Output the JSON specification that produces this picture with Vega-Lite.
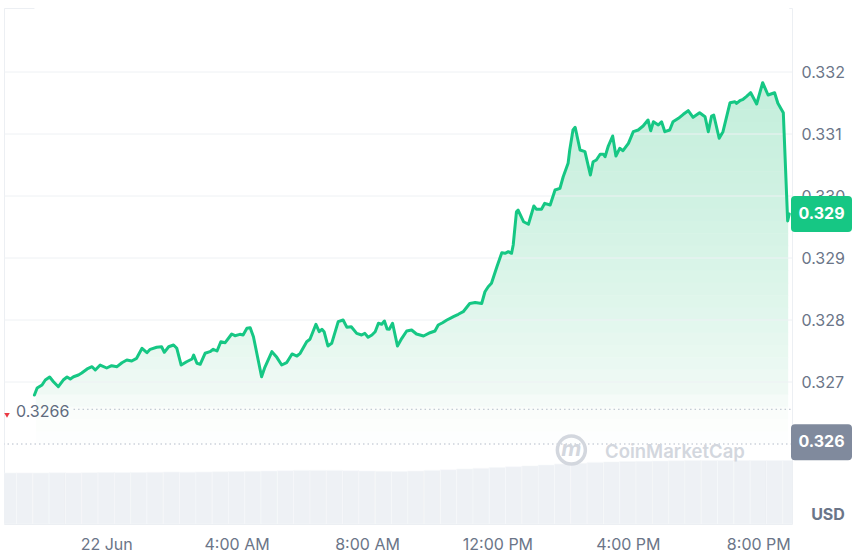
{
  "$schema": "https://vega.github.io/schema/vega-lite/v6.json",
  "width": 788,
  "height": 516,
  "autosize": {"type": "none"},
  "padding": {"left": 4, "top": 8, "right": 64, "bottom": 35},
  "background": "#ffffff",
  "config": {
    "font": "Inter",
    "view": {"stroke": "#eceff3", "strokeWidth": 1},
    "axis": {"labelFont": "Inter", "labelColor": "#6b7588", "labelFontSize": 16}
  },
  "datasets": {
    "price": [
      {"t":"2024-06-21T21:48Z","p":0.326790},{"t":"2024-06-21T21:53Z","p":0.326903},{"t":"2024-06-21T22:02Z","p":0.326952},
      {"t":"2024-06-21T22:08Z","p":0.327032},{"t":"2024-06-21T22:16Z","p":0.327081},{"t":"2024-06-21T22:23Z","p":0.327005},
      {"t":"2024-06-21T22:32Z","p":0.326924},{"t":"2024-06-21T22:41Z","p":0.327032},{"t":"2024-06-21T22:48Z","p":0.327081},
      {"t":"2024-06-21T22:54Z","p":0.327048},{"t":"2024-06-21T23:00Z","p":0.327085},{"t":"2024-06-21T23:09Z","p":0.327113},
      {"t":"2024-06-21T23:15Z","p":0.327145},{"t":"2024-06-21T23:25Z","p":0.327210},{"t":"2024-06-21T23:34Z","p":0.327247},
      {"t":"2024-06-21T23:40Z","p":0.327194},{"t":"2024-06-21T23:49Z","p":0.327274},
      {"t":"2024-06-22T00:01Z","p":0.327226},{"t":"2024-06-22T00:10Z","p":0.327263},{"t":"2024-06-22T00:20Z","p":0.327247},
      {"t":"2024-06-22T00:29Z","p":0.327311},{"t":"2024-06-22T00:38Z","p":0.327355},{"t":"2024-06-22T00:47Z","p":0.327339},
      {"t":"2024-06-22T00:56Z","p":0.327382},{"t":"2024-06-22T01:06Z","p":0.327544},{"t":"2024-06-22T01:15Z","p":0.327473},
      {"t":"2024-06-22T01:21Z","p":0.327527},{"t":"2024-06-22T01:33Z","p":0.327560},{"t":"2024-06-22T01:42Z","p":0.327569},
      {"t":"2024-06-22T01:47Z","p":0.327479},{"t":"2024-06-22T01:55Z","p":0.327569},{"t":"2024-06-22T02:04Z","p":0.327597},
      {"t":"2024-06-22T02:10Z","p":0.327544},{"t":"2024-06-22T02:18Z","p":0.327274},{"t":"2024-06-22T02:28Z","p":0.327327},
      {"t":"2024-06-22T02:38Z","p":0.327371},{"t":"2024-06-22T02:41Z","p":0.327435},{"t":"2024-06-22T02:47Z","p":0.327302},
      {"t":"2024-06-22T02:53Z","p":0.327285},{"t":"2024-06-22T03:02Z","p":0.327463},{"t":"2024-06-22T03:11Z","p":0.327489},
      {"t":"2024-06-22T03:17Z","p":0.327527},{"t":"2024-06-22T03:24Z","p":0.327500},{"t":"2024-06-22T03:31Z","p":0.327650},
      {"t":"2024-06-22T03:39Z","p":0.327634},{"t":"2024-06-22T03:51Z","p":0.327774},{"t":"2024-06-22T03:57Z","p":0.327747},
      {"t":"2024-06-22T04:06Z","p":0.327769},{"t":"2024-06-22T04:12Z","p":0.327758},{"t":"2024-06-22T04:19Z","p":0.327866},
      {"t":"2024-06-22T04:25Z","p":0.327876},{"t":"2024-06-22T04:31Z","p":0.327731},{"t":"2024-06-22T04:46Z","p":0.327085},
      {"t":"2024-06-22T04:52Z","p":0.327237},{"t":"2024-06-22T05:05Z","p":0.327489},{"t":"2024-06-22T05:14Z","p":0.327398},
      {"t":"2024-06-22T05:23Z","p":0.327274},{"t":"2024-06-22T05:32Z","p":0.327311},{"t":"2024-06-22T05:42Z","p":0.327452},
      {"t":"2024-06-22T05:51Z","p":0.327419},{"t":"2024-06-22T05:57Z","p":0.327463},{"t":"2024-06-22T06:09Z","p":0.327650},
      {"t":"2024-06-22T06:15Z","p":0.327689},{"t":"2024-06-22T06:26Z","p":0.327931},{"t":"2024-06-22T06:32Z","p":0.327811},
      {"t":"2024-06-22T06:37Z","p":0.327850},{"t":"2024-06-22T06:41Z","p":0.327811},{"t":"2024-06-22T06:48Z","p":0.327581},
      {"t":"2024-06-22T06:55Z","p":0.327624},{"t":"2024-06-22T07:07Z","p":0.327973},{"t":"2024-06-22T07:16Z","p":0.328000},
      {"t":"2024-06-22T07:23Z","p":0.327882},{"t":"2024-06-22T07:31Z","p":0.327892},{"t":"2024-06-22T07:41Z","p":0.327785},
      {"t":"2024-06-22T07:50Z","p":0.327758},{"t":"2024-06-22T07:56Z","p":0.327785},{"t":"2024-06-22T08:02Z","p":0.327721},
      {"t":"2024-06-22T08:09Z","p":0.327758},{"t":"2024-06-22T08:15Z","p":0.327811},{"t":"2024-06-22T08:21Z","p":0.327947},
      {"t":"2024-06-22T08:27Z","p":0.327931},{"t":"2024-06-22T08:32Z","p":0.327984},{"t":"2024-06-22T08:37Z","p":0.327855},
      {"t":"2024-06-22T08:41Z","p":0.327850},{"t":"2024-06-22T08:47Z","p":0.327947},{"t":"2024-06-22T08:56Z","p":0.327581},
      {"t":"2024-06-22T09:04Z","p":0.327705},{"t":"2024-06-22T09:13Z","p":0.327823},{"t":"2024-06-22T09:22Z","p":0.327839},
      {"t":"2024-06-22T09:31Z","p":0.327774},{"t":"2024-06-22T09:44Z","p":0.327742},{"t":"2024-06-22T09:56Z","p":0.327795},
      {"t":"2024-06-22T10:05Z","p":0.327823},{"t":"2024-06-22T10:11Z","p":0.327919},{"t":"2024-06-22T10:19Z","p":0.327956},
      {"t":"2024-06-22T10:27Z","p":0.328000},{"t":"2024-06-22T10:33Z","p":0.328027},{"t":"2024-06-22T10:39Z","p":0.328053},
      {"t":"2024-06-22T10:48Z","p":0.328092},{"t":"2024-06-22T10:57Z","p":0.328134},{"t":"2024-06-22T11:09Z","p":0.328266},
      {"t":"2024-06-22T11:19Z","p":0.328282},{"t":"2024-06-22T11:31Z","p":0.328266},{"t":"2024-06-22T11:37Z","p":0.328456},
      {"t":"2024-06-22T11:43Z","p":0.328537},{"t":"2024-06-22T11:49Z","p":0.328592},{"t":"2024-06-22T11:59Z","p":0.328860},
      {"t":"2024-06-22T12:08Z","p":0.329085},{"t":"2024-06-22T12:14Z","p":0.329076},{"t":"2024-06-22T12:20Z","p":0.329102},
      {"t":"2024-06-22T12:26Z","p":0.329076},{"t":"2024-06-22T12:29Z","p":0.329210},{"t":"2024-06-22T12:35Z","p":0.329747},
      {"t":"2024-06-22T12:38Z","p":0.329774},{"t":"2024-06-22T12:48Z","p":0.329585},{"t":"2024-06-22T12:57Z","p":0.329544},
      {"t":"2024-06-22T13:07Z","p":0.329839},{"t":"2024-06-22T13:12Z","p":0.329785},{"t":"2024-06-22T13:21Z","p":0.329785},
      {"t":"2024-06-22T13:27Z","p":0.329882},{"t":"2024-06-22T13:37Z","p":0.329855},{"t":"2024-06-22T13:46Z","p":0.330097},
      {"t":"2024-06-22T13:55Z","p":0.330124},{"t":"2024-06-22T14:01Z","p":0.330311},{"t":"2024-06-22T14:10Z","p":0.330527},
      {"t":"2024-06-22T14:13Z","p":0.330742},{"t":"2024-06-22T14:19Z","p":0.331065},{"t":"2024-06-22T14:23Z","p":0.331108},
      {"t":"2024-06-22T14:32Z","p":0.330742},{"t":"2024-06-22T14:41Z","p":0.330715},{"t":"2024-06-22T14:51Z","p":0.330339},
      {"t":"2024-06-22T14:56Z","p":0.330553},{"t":"2024-06-22T15:02Z","p":0.330581},{"t":"2024-06-22T15:09Z","p":0.330673},
      {"t":"2024-06-22T15:15Z","p":0.330673},{"t":"2024-06-22T15:18Z","p":0.330634},{"t":"2024-06-22T15:24Z","p":0.330806},
      {"t":"2024-06-22T15:32Z","p":0.330968},{"t":"2024-06-22T15:38Z","p":0.330645},{"t":"2024-06-22T15:45Z","p":0.330769},
      {"t":"2024-06-22T15:51Z","p":0.330731},{"t":"2024-06-22T16:01Z","p":0.330850},{"t":"2024-06-22T16:10Z","p":0.331037},
      {"t":"2024-06-22T16:19Z","p":0.331065},{"t":"2024-06-22T16:28Z","p":0.331129},{"t":"2024-06-22T16:37Z","p":0.331226},
      {"t":"2024-06-22T16:42Z","p":0.331053},{"t":"2024-06-22T16:47Z","p":0.331198},{"t":"2024-06-22T16:56Z","p":0.331145},
      {"t":"2024-06-22T17:02Z","p":0.331198},{"t":"2024-06-22T17:08Z","p":0.331037},{"t":"2024-06-22T17:17Z","p":0.331065},
      {"t":"2024-06-22T17:23Z","p":0.331198},{"t":"2024-06-22T17:33Z","p":0.331253},{"t":"2024-06-22T17:42Z","p":0.331318},
      {"t":"2024-06-22T17:51Z","p":0.331376},{"t":"2024-06-22T18:00Z","p":0.331269},{"t":"2024-06-22T18:12Z","p":0.331344},
      {"t":"2024-06-22T18:22Z","p":0.331279},{"t":"2024-06-22T18:28Z","p":0.331037},{"t":"2024-06-22T18:34Z","p":0.331290},
      {"t":"2024-06-22T18:38Z","p":0.331306},{"t":"2024-06-22T18:48Z","p":0.330931},{"t":"2024-06-22T18:55Z","p":0.331037},
      {"t":"2024-06-22T19:08Z","p":0.331505},{"t":"2024-06-22T19:17Z","p":0.331521},{"t":"2024-06-22T19:20Z","p":0.331495},
      {"t":"2024-06-22T19:26Z","p":0.331537},{"t":"2024-06-22T19:32Z","p":0.331560},{"t":"2024-06-22T19:38Z","p":0.331602},
      {"t":"2024-06-22T19:46Z","p":0.331666},{"t":"2024-06-22T19:57Z","p":0.331484},{"t":"2024-06-22T20:08Z","p":0.331827},
      {"t":"2024-06-22T20:18Z","p":0.331629},{"t":"2024-06-22T20:30Z","p":0.331666},{"t":"2024-06-22T20:36Z","p":0.331495},
      {"t":"2024-06-22T20:46Z","p":0.331344},{"t":"2024-06-22T20:54Z","p":0.329597},{"t":"2024-06-22T20:57Z","p":0.329710}
    ],
    "vol": [
      {"t":"2024-06-21T21:00Z","v":39.5},{"t":"2024-06-21T21:30Z","v":39.6},{"t":"2024-06-21T22:00Z","v":39.5},
      {"t":"2024-06-21T22:30Z","v":39.7},{"t":"2024-06-21T23:00Z","v":39.6},{"t":"2024-06-21T23:30Z","v":39.8},
      {"t":"2024-06-22T00:00Z","v":39.9},{"t":"2024-06-22T00:30Z","v":40.0},{"t":"2024-06-22T01:00Z","v":39.9},
      {"t":"2024-06-22T01:30Z","v":40.1},{"t":"2024-06-22T02:00Z","v":40.3},{"t":"2024-06-22T02:30Z","v":40.2},
      {"t":"2024-06-22T03:00Z","v":40.3},{"t":"2024-06-22T03:30Z","v":40.5},{"t":"2024-06-22T04:00Z","v":40.7},
      {"t":"2024-06-22T04:30Z","v":40.9},{"t":"2024-06-22T05:00Z","v":41.1},{"t":"2024-06-22T05:30Z","v":41.3},
      {"t":"2024-06-22T06:00Z","v":41.5},{"t":"2024-06-22T06:30Z","v":41.5},{"t":"2024-06-22T07:00Z","v":41.5},
      {"t":"2024-06-22T07:30Z","v":41.3},{"t":"2024-06-22T08:00Z","v":41.1},{"t":"2024-06-22T08:30Z","v":40.9},
      {"t":"2024-06-22T09:00Z","v":40.7},{"t":"2024-06-22T09:30Z","v":41.0},{"t":"2024-06-22T10:00Z","v":41.5},
      {"t":"2024-06-22T10:30Z","v":42.0},{"t":"2024-06-22T11:00Z","v":42.6},{"t":"2024-06-22T11:30Z","v":43.2},
      {"t":"2024-06-22T12:00Z","v":43.8},{"t":"2024-06-22T12:30Z","v":44.4},{"t":"2024-06-22T13:00Z","v":45.0},
      {"t":"2024-06-22T13:30Z","v":45.7},{"t":"2024-06-22T14:00Z","v":46.5},{"t":"2024-06-22T14:30Z","v":47.1},
      {"t":"2024-06-22T15:00Z","v":47.7},{"t":"2024-06-22T15:30Z","v":48.1},{"t":"2024-06-22T16:00Z","v":48.4},
      {"t":"2024-06-22T16:30Z","v":48.6},{"t":"2024-06-22T17:00Z","v":48.8},{"t":"2024-06-22T17:30Z","v":49.0},
      {"t":"2024-06-22T18:00Z","v":49.2},{"t":"2024-06-22T18:30Z","v":49.2},{"t":"2024-06-22T19:00Z","v":49.2},
      {"t":"2024-06-22T19:30Z","v":49.2},{"t":"2024-06-22T20:00Z","v":49.2},{"t":"2024-06-22T20:30Z","v":49.2},
      {"t":"2024-06-22T21:00Z","v":49.2}
    ],
    "bands": [
      {"hi":0.3330,"lo":0.33279},{"hi":0.3328,"lo":0.33259},{"hi":0.3326,"lo":0.33239},{"hi":0.3324,"lo":0.33219},
      {"hi":0.3322,"lo":0.33199},{"hi":0.3320,"lo":0.33179},{"hi":0.3318,"lo":0.33159},{"hi":0.3316,"lo":0.33139},
      {"hi":0.3314,"lo":0.33119},{"hi":0.3312,"lo":0.33099},{"hi":0.3310,"lo":0.33079},{"hi":0.3308,"lo":0.33059},
      {"hi":0.3306,"lo":0.33039},{"hi":0.3304,"lo":0.33019},{"hi":0.3302,"lo":0.32999},{"hi":0.3300,"lo":0.32979},
      {"hi":0.3298,"lo":0.32959},{"hi":0.3296,"lo":0.32939},{"hi":0.3294,"lo":0.32919},{"hi":0.3292,"lo":0.32899},
      {"hi":0.3290,"lo":0.32879},{"hi":0.3288,"lo":0.32859},{"hi":0.3286,"lo":0.32839},{"hi":0.3284,"lo":0.32819},
      {"hi":0.3282,"lo":0.32799},{"hi":0.3280,"lo":0.32779},{"hi":0.3278,"lo":0.32759},{"hi":0.3276,"lo":0.32739},
      {"hi":0.3274,"lo":0.32719},{"hi":0.3272,"lo":0.32699},{"hi":0.3270,"lo":0.32679},{"hi":0.3268,"lo":0.32659},
      {"hi":0.3266,"lo":0.32639},{"hi":0.3264,"lo":0.32619},{"hi":0.3262,"lo":0.32600}
    ],
    "grid": [{"g":0.327},{"g":0.328},{"g":0.329},{"g":0.330},{"g":0.331},{"g":0.332}],
    "one": [{}]
  },
  "resolve": {"scale": {"y": "independent"}, "axis": {"y": "independent"}},
  "layer": [
    {
      "data": {"name": "bands"},
      "mark": {"type": "rect", "clip": true},
      "encoding": {
        "x": {"datum": 1719006630000, "type": "temporal",
              "scale": {"type": "utc", "domain": [1719003120000, 1719090120000], "padding": 0},
              "axis": {"values": [1719014400000, 1719028800000, 1719043200000, 1719057600000, 1719072000000, 1719086400000],
                       "labelExpr": "utchours(datum.value) == 0 ? utcFormat(datum.value, '%-d %b') : utcFormat(datum.value, '%-I:%M %p')",
                       "grid": false, "ticks": false, "domain": false, "labelPadding": 12, "title": null,
                       "labelFlush": false, "labelOverlap": false}},
        "x2": {"datum": 1719089700000},
        "y": {"field": "hi", "type": "quantitative",
              "scale": {"domain": [0.3247097, 0.3330323], "zero": false, "nice": false},
              "axis": {"orient": "right", "values": [0.327, 0.328, 0.329, 0.33, 0.331, 0.332], "format": ".3f",
                       "grid": false, "ticks": false, "domain": false, "labelPadding": 9, "labelAlign": "left",
                       "labelBaseline": "middle", "title": null}},
        "y2": {"field": "lo"},
        "color": {"field": "hi", "type": "quantitative", "legend": null,
                  "scale": {"domain": [0.3260, 0.3266, 0.3270, 0.3283, 0.3299, 0.3320],
                            "range": ["#ffffff", "#fafdfb", "#eff9f4", "#e0f6ec", "#d1f2e3", "#c3eedb"],
                            "interpolate": "rgb"}}
      }
    },
    {
      "data": {"name": "price"},
      "mark": {"type": "area", "color": "#ffffff", "opacity": 1, "clip": true},
      "encoding": {
        "x": {"field": "t", "type": "temporal"},
        "y": {"field": "p", "type": "quantitative", "scale": {"domain": [0.3247097, 0.3330323], "zero": false, "nice": false}, "axis": null},
        "y2": {"datum": 0.3330323}
      }
    },
    {
      "data": {"name": "vol"},
      "mark": {"type": "bar", "width": 16.3, "color": "#eef1f5", "stroke": "#f7f8fa", "strokeWidth": 0.6, "clip": true},
      "encoding": {
        "x": {"field": "t", "type": "temporal"},
        "y": {"field": "v", "type": "quantitative", "scale": {"domain": [0, 400]}, "axis": null}
      }
    },
    {
      "data": {"name": "grid"},
      "mark": {"type": "rule", "color": "#eef1f4", "strokeWidth": 1},
      "encoding": {"y": {"field": "g", "type": "quantitative", "scale": {"domain": [0.3247097, 0.3330323], "zero": false, "nice": false}, "axis": null}}
    },
    {
      "data": {"name": "one"},
      "mark": {"type": "rule", "color": "#b4bcc9", "strokeWidth": 1, "strokeDash": [1.5, 3]},
      "encoding": {"y": {"datum": 0.326, "type": "quantitative", "scale": {"domain": [0.3247097, 0.3330323], "zero": false, "nice": false}, "axis": null}}
    },
    {
      "data": {"name": "one"},
      "mark": {"type": "rule", "color": "#b4bcc9", "strokeWidth": 1, "strokeDash": [1.5, 3]},
      "encoding": {
        "x": {"datum": 1719010800000, "type": "temporal"},
        "x2": {"datum": 1719090000000},
        "y": {"datum": 0.32656, "type": "quantitative", "scale": {"domain": [0.3247097, 0.3330323], "zero": false, "nice": false}, "axis": null}
      }
    },
    {
      "data": {"name": "price"},
      "mark": {"type": "line", "color": "#16c784", "strokeWidth": 3, "strokeJoin": "round", "strokeCap": "round", "clip": true},
      "encoding": {
        "x": {"field": "t", "type": "temporal"},
        "y": {"field": "p", "type": "quantitative", "scale": {"domain": [0.3247097, 0.3330323], "zero": false, "nice": false}, "axis": null}
      }
    },
    {
      "data": {"name": "one"},
      "mark": {"type": "text", "text": "0.3266", "align": "left", "baseline": "middle", "dx": 12, "dy": 3,
               "fontSize": 16, "color": "#5f6b7e", "font": "Inter"},
      "encoding": {"x": {"value": 0}, "y": {"datum": 0.32656, "type": "quantitative", "scale": {"domain": [0.3247097, 0.3330323], "zero": false, "nice": false}, "axis": null}}
    },
    {
      "data": {"name": "one"},
      "mark": {"type": "point", "shape": "triangle-down", "filled": true, "size": 30, "color": "#ea3943", "opacity": 1, "xOffset": 3},
      "encoding": {"x": {"value": 0}, "y": {"datum": 0.32646, "type": "quantitative", "scale": {"domain": [0.3247097, 0.3330323], "zero": false, "nice": false}, "axis": null}}
    },
    {
      "data": {"name": "one"},
      "mark": {"type": "point", "filled": true, "opacity": 1, "size": 3721, "color": "#808a9d", "xOffset": 29.5,
               "shape": "M-0.87,-0.59 L0.87,-0.59 Q1,-0.59 1,-0.46 L1,0.46 Q1,0.59 0.87,0.59 L-0.87,0.59 Q-1,0.59 -1,0.46 L-1,-0.46 Q-1,-0.59 -0.87,-0.59 Z"},
      "encoding": {"x": {"value": "width"}, "y": {"datum": 0.32603, "type": "quantitative", "scale": {"domain": [0.3247097, 0.3330323], "zero": false, "nice": false}, "axis": null}}
    },
    {
      "data": {"name": "one"},
      "mark": {"type": "text", "text": "0.326", "align": "center", "baseline": "middle", "dx": 29.5,
               "fontSize": 16, "fontWeight": "bold", "color": "#ffffff", "font": "Inter"},
      "encoding": {"x": {"value": "width"}, "y": {"datum": 0.32603, "type": "quantitative", "scale": {"domain": [0.3247097, 0.3330323], "zero": false, "nice": false}, "axis": null}}
    },
    {
      "data": {"name": "one"},
      "mark": {"type": "point", "filled": true, "opacity": 1, "size": 3721, "color": "#16c784", "xOffset": 29.5,
               "shape": "M-0.87,-0.59 L0.87,-0.59 Q1,-0.59 1,-0.46 L1,0.46 Q1,0.59 0.87,0.59 L-0.87,0.59 Q-1,0.59 -1,0.46 L-1,-0.46 Q-1,-0.59 -0.87,-0.59 Z"},
      "encoding": {"x": {"value": "width"}, "y": {"datum": 0.32971, "type": "quantitative", "scale": {"domain": [0.3247097, 0.3330323], "zero": false, "nice": false}, "axis": null}}
    },
    {
      "data": {"name": "one"},
      "mark": {"type": "text", "text": "0.329", "align": "center", "baseline": "middle", "dx": 29.5,
               "fontSize": 16, "fontWeight": "bold", "color": "#ffffff", "font": "Inter"},
      "encoding": {"x": {"value": "width"}, "y": {"datum": 0.32971, "type": "quantitative", "scale": {"domain": [0.3247097, 0.3330323], "zero": false, "nice": false}, "axis": null}}
    },
    {
      "data": {"name": "one"},
      "mark": {"type": "text", "text": "USD", "align": "center", "baseline": "middle", "dx": 36,
               "fontSize": 16, "fontWeight": "bold", "color": "#6b7588", "font": "Inter"},
      "encoding": {"x": {"value": "width"}, "y": {"datum": 0.324855, "type": "quantitative", "scale": {"domain": [0.3247097, 0.3330323], "zero": false, "nice": false}, "axis": null}}
    },
    {
      "data": {"name": "one"},
      "mark": {"type": "point", "shape": "circle", "filled": false, "size": 784, "stroke": "#d3d7de", "strokeWidth": 3.5, "opacity": 1},
      "encoding": {"x": {"datum": 1719065760000, "type": "temporal"},
                   "y": {"datum": 0.325903, "type": "quantitative", "scale": {"domain": [0.3247097, 0.3330323], "zero": false, "nice": false}, "axis": null}}
    },
    {
      "data": {"name": "one"},
      "mark": {"type": "text", "text": "m", "align": "center", "baseline": "middle", "fontSize": 22, "fontWeight": "bold",
               "fontStyle": "italic", "color": "#d3d7de", "font": "Inter", "dy": -1},
      "encoding": {"x": {"datum": 1719065760000, "type": "temporal"},
                   "y": {"datum": 0.325903, "type": "quantitative", "scale": {"domain": [0.3247097, 0.3330323], "zero": false, "nice": false}, "axis": null}}
    },
    {
      "data": {"name": "one"},
      "mark": {"type": "text", "text": "CoinMarketCap", "align": "left", "baseline": "middle", "fontSize": 18.5, "fontWeight": 600,
               "color": "#d3d7de", "font": "Inter"},
      "encoding": {"x": {"datum": 1719069480000, "type": "temporal"},
                   "y": {"datum": 0.325875, "type": "quantitative", "scale": {"domain": [0.3247097, 0.3330323], "zero": false, "nice": false}, "axis": null}}
    }
  ]
}
